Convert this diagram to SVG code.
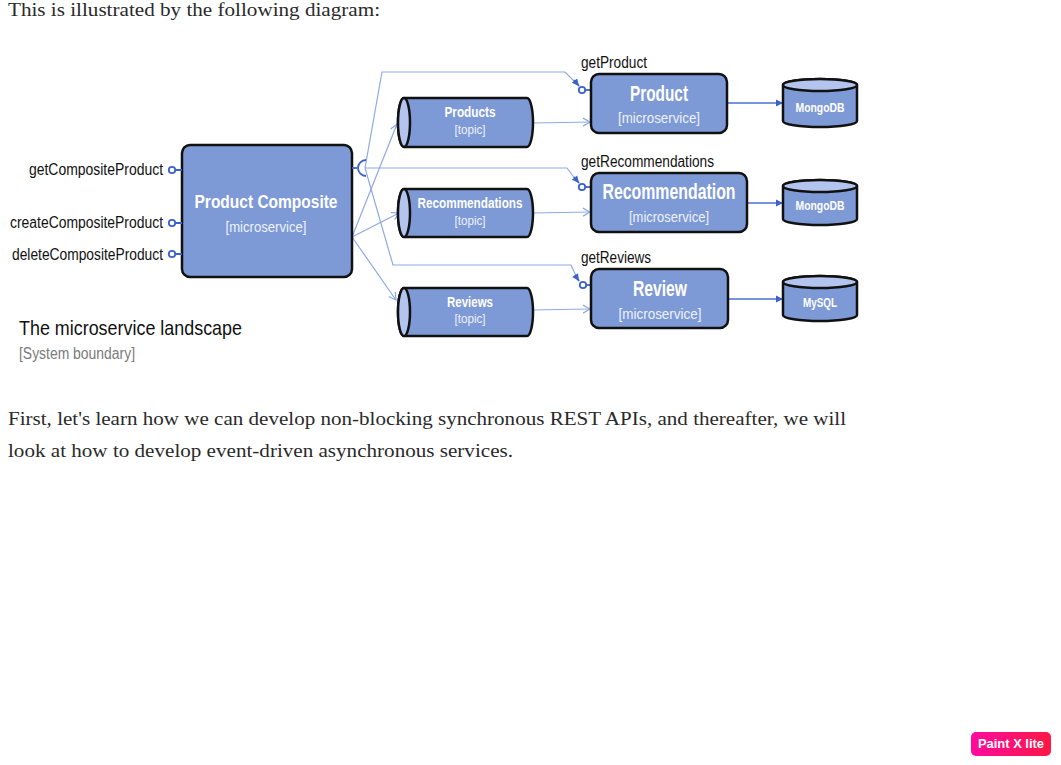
<svg xmlns="http://www.w3.org/2000/svg" width="1061" height="765" viewBox="0 0 1061 765">
<style>
.page{font-family:"Liberation Serif","DejaVu Serif",serif;font-size:19px;fill:#2a2a2a}
.lbl{font-family:"Liberation Sans",Arial,sans-serif;font-size:16px;fill:#111}
.box{fill:#7d99d6;stroke:#111;stroke-width:2.5}
.lite{fill:#b3c5ee;stroke:#111;stroke-width:2.5}
.wt{font-family:"Liberation Sans",Arial,sans-serif;font-weight:bold;fill:#fff;text-anchor:middle}
.ws{font-family:"Liberation Sans",Arial,sans-serif;fill:#eef2fb;text-anchor:middle}
.conn{fill:none;stroke:#8fa9e4;stroke-width:1.2}
.port{fill:none;stroke:#3c62c8;stroke-width:1.8}
.db{fill:none;stroke:#4a6fd0;stroke-width:1.3}
</style>
<defs>
<marker id="open" markerWidth="10" markerHeight="10" refX="8" refY="5" orient="auto" markerUnits="userSpaceOnUse">
<path d="M1,1 L8,5 L1,9" fill="none" stroke="#8fa9e4" stroke-width="1.2"/>
</marker>
<marker id="fill" markerWidth="10" markerHeight="10" refX="8" refY="5" orient="auto" markerUnits="userSpaceOnUse">
<path d="M1,1.5 L8,5 L1,8.5 Z" fill="#3c62c8"/>
</marker>
<marker id="dbm" markerWidth="10" markerHeight="10" refX="8" refY="5" orient="auto" markerUnits="userSpaceOnUse">
<path d="M1,1.5 L8,5 L1,8.5 Z" fill="#3c62c8"/>
</marker>
<linearGradient id="badge" x1="0" y1="0" x2="1" y2="0">
<stop offset="0" stop-color="#ff0aa0"/>
<stop offset="1" stop-color="#ff1744"/>
</linearGradient>
</defs>

<rect x="0" y="0" width="1061" height="765" fill="#fff"/>

<text class="page" x="8" y="16" textLength="372" lengthAdjust="spacingAndGlyphs">This is illustrated by the following diagram:</text>
<text class="page" x="8" y="425" textLength="838" lengthAdjust="spacingAndGlyphs">First, let's learn how we can develop non-blocking synchronous REST APIs, and thereafter, we will</text>
<text class="page" x="8" y="457" textLength="505" lengthAdjust="spacingAndGlyphs">look at how to develop event-driven asynchronous services.</text>

<g id="connectors">
<path class="conn" d="M352,237 L397,124" marker-end="url(#open)"/>
<path class="conn" d="M352,237 L399,213" marker-end="url(#open)"/>
<path class="conn" d="M352,237 L396,300" marker-end="url(#open)"/>
<path class="conn" d="M533,123 L590,122" marker-end="url(#open)"/>
<path class="conn" d="M533,213 L590,212" marker-end="url(#open)"/>
<path class="conn" d="M533,310 L590,309" marker-end="url(#open)"/>
<path class="conn" d="M365,168 L382,72 L565,72 L576,83"/>
<path class="conn" d="M365,168 L567,168 L576,180"/>
<path class="conn" d="M365,168 L393,265 L571,265 L577,278"/>
<path class="port" d="M574,80 L579,86" marker-end="url(#fill)"/>
<path class="port" d="M574,177 L579,183" marker-end="url(#fill)"/>
<path class="port" d="M575,275 L579,281" marker-end="url(#fill)"/>
<path class="db" d="M727,103 L783,103" marker-end="url(#dbm)"/>
<path class="db" d="M747,203 L783,203" marker-end="url(#dbm)"/>
<path class="db" d="M727,299 L783,299" marker-end="url(#dbm)"/>
</g>

<g id="product-composite">
<rect class="box" x="182" y="145" width="170" height="132" rx="8"/>
<text class="wt" x="266" y="208" font-size="19" textLength="143" lengthAdjust="spacingAndGlyphs">Product Composite</text>
<text class="ws" x="266" y="232" font-size="14" textLength="81" lengthAdjust="spacingAndGlyphs">[microservice]</text>
<path class="port" d="M175,170 L182,170 M175,223 L182,223 M175,254 L182,254"/>
<circle class="port" cx="172" cy="170" r="3.2"/>
<circle class="port" cx="172" cy="223" r="3.2"/>
<circle class="port" cx="172" cy="254" r="3.2"/>
<path class="port" d="M352,168 L357,168"/>
<path class="port" d="M366,160 A8,8 0 0 0 366,176"/>
</g>

<g id="api-labels">
<text class="lbl" x="163" y="175" text-anchor="end" textLength="134" lengthAdjust="spacingAndGlyphs">getCompositeProduct</text>
<text class="lbl" x="163" y="228" text-anchor="end" textLength="153" lengthAdjust="spacingAndGlyphs">createCompositeProduct</text>
<text class="lbl" x="163" y="260" text-anchor="end" textLength="151" lengthAdjust="spacingAndGlyphs">deleteCompositeProduct</text>
</g>

<g id="topic-products">
<path class="box" d="M404,98 L527,98 A6,24.5 0 0 1 527,147 L404,147 A6,24.5 0 0 1 404,98 Z"/>
<ellipse class="lite" cx="404" cy="122.5" rx="6" ry="24.5"/>
<text class="wt" x="470" y="117" font-size="14" textLength="51" lengthAdjust="spacingAndGlyphs">Products</text>
<text class="ws" x="470" y="134" font-size="12" textLength="31" lengthAdjust="spacingAndGlyphs">[topic]</text>
</g>

<g id="topic-recommendations">
<path class="box" d="M404,189 L527,189 A6,24 0 0 1 527,237 L404,237 A6,24 0 0 1 404,189 Z"/>
<ellipse class="lite" cx="404" cy="213" rx="6" ry="24"/>
<text class="wt" x="470" y="208" font-size="14" textLength="105" lengthAdjust="spacingAndGlyphs">Recommendations</text>
<text class="ws" x="470" y="225" font-size="12" textLength="31" lengthAdjust="spacingAndGlyphs">[topic]</text>
</g>

<g id="topic-reviews">
<path class="box" d="M404,288 L527,288 A6,24 0 0 1 527,336 L404,336 A6,24 0 0 1 404,288 Z"/>
<ellipse class="lite" cx="404" cy="312" rx="6" ry="24"/>
<text class="wt" x="470" y="307" font-size="14" textLength="46" lengthAdjust="spacingAndGlyphs">Reviews</text>
<text class="ws" x="470" y="323" font-size="12" textLength="31" lengthAdjust="spacingAndGlyphs">[topic]</text>
</g>

<g id="product-service">
<text class="lbl" x="581" y="68" textLength="66" lengthAdjust="spacingAndGlyphs">getProduct</text>
<path class="port" d="M585,90 L591,90"/>
<circle class="port" cx="582" cy="90" r="3.2"/>
<rect class="box" x="591" y="74" width="136" height="59" rx="8"/>
<text class="wt" x="659" y="101" font-size="22" textLength="58" lengthAdjust="spacingAndGlyphs">Product</text>
<text class="ws" x="659" y="123" font-size="15" textLength="82" lengthAdjust="spacingAndGlyphs">[microservice]</text>
</g>

<g id="recommendation-service">
<text class="lbl" x="581" y="167" textLength="133" lengthAdjust="spacingAndGlyphs">getRecommendations</text>
<path class="port" d="M585,187 L591,187"/>
<circle class="port" cx="582" cy="187" r="3.2"/>
<rect class="box" x="591" y="173" width="156" height="59" rx="8"/>
<text class="wt" x="669" y="199" font-size="22" textLength="133" lengthAdjust="spacingAndGlyphs">Recommendation</text>
<text class="ws" x="669" y="222" font-size="15" textLength="80" lengthAdjust="spacingAndGlyphs">[microservice]</text>
</g>

<g id="review-service">
<text class="lbl" x="581" y="263" textLength="70" lengthAdjust="spacingAndGlyphs">getReviews</text>
<path class="port" d="M586,285 L591,285"/>
<circle class="port" cx="583" cy="285" r="3.2"/>
<rect class="box" x="591" y="269" width="137" height="59" rx="8"/>
<text class="wt" x="660" y="296" font-size="22" textLength="54" lengthAdjust="spacingAndGlyphs">Review</text>
<text class="ws" x="660" y="319" font-size="15" textLength="83" lengthAdjust="spacingAndGlyphs">[microservice]</text>
</g>

<g id="db-product">
<path class="box" d="M783,85 A37,6 0 0 1 857,85 L857,121 A37,6 0 0 1 783,121 Z"/>
<ellipse class="lite" cx="820" cy="85" rx="37" ry="6"/>
<text class="wt" x="820" y="112" font-size="12" textLength="49" lengthAdjust="spacingAndGlyphs">MongoDB</text>
</g>

<g id="db-recommendation">
<path class="box" d="M783,186 A37,6 0 0 1 857,186 L857,219 A37,6 0 0 1 783,219 Z"/>
<ellipse class="lite" cx="820" cy="186" rx="37" ry="6"/>
<text class="wt" x="820" y="210" font-size="12" textLength="49" lengthAdjust="spacingAndGlyphs">MongoDB</text>
</g>

<g id="db-review">
<path class="box" d="M783,282 A37,6 0 0 1 857,282 L857,315 A37,6 0 0 1 783,315 Z"/>
<ellipse class="lite" cx="820" cy="282" rx="37" ry="6"/>
<text class="wt" x="820" y="307" font-size="12" textLength="34" lengthAdjust="spacingAndGlyphs">MySQL</text>
</g>

<g id="boundary-label">
<text x="19" y="335" font-family="Liberation Sans, Arial, sans-serif" font-size="21" fill="#111" textLength="223" lengthAdjust="spacingAndGlyphs">The microservice landscape</text>
<text x="19" y="359" font-family="Liberation Sans, Arial, sans-serif" font-size="16" fill="#7a7a7a" textLength="116" lengthAdjust="spacingAndGlyphs">[System boundary]</text>
</g>

<g id="badge">
<rect x="971" y="732" width="80" height="24" rx="5" fill="url(#badge)"/>
<text x="1011" y="748" font-family="Liberation Sans, Arial, sans-serif" font-weight="bold" font-size="12" fill="#fff" text-anchor="middle" textLength="66" lengthAdjust="spacingAndGlyphs">Paint X lite</text>
</g>
</svg>
